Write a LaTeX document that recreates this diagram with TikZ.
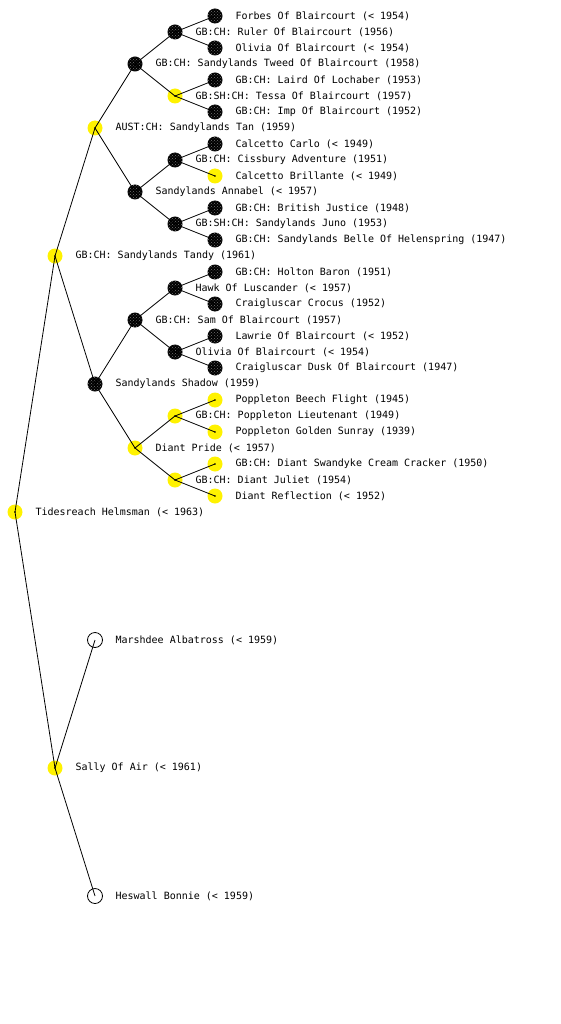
\documentclass[tikz,border=0pt]{standalone}
\usepackage{fontspec}
\newfontfamily\pedfont{DejaVu Sans Mono}
\usetikzlibrary{patterns}
\tikzset{
  dog/.style={circle,minimum size=15pt,inner sep=0pt,line width=0.8pt},
  blk/.style={dog,fill=black,postaction={pattern=crosshatch dots,pattern color=black!55}},
  ylw/.style={dog,fill=yellow,path picture={\fill[black] (path picture bounding box.center) circle (0.9pt);}},
  unk/.style={dog,draw=black,fill=white},
  every label/.style={font=\pedfont\fontsize{10}{12}\selectfont,inner sep=0pt},
  label distance=12.5pt
}
\begin{document}
\begin{tikzpicture}[x=1pt,y=-1pt]
\useasboundingbox (0,0) rectangle (560,1024);
% generation 0 and 1
\node[ylw,label=right:{Tidesreach Helmsman (< 1963)}] (t) at (15,512) {};
\node[ylw,label=right:{GB:CH: Sandylands Tandy (1961)}] (tandy) at (55,256) {};
\node[ylw,label=right:{Sally Of Air (< 1961)}] (sally) at (55,768) {};
% generation 2
\node[ylw,label=right:{AUST:CH: Sandylands Tan (1959)}] (tan) at (95,128) {};
\node[blk,label=right:{Sandylands Shadow (1959)}] (shadow) at (95,384) {};
\node[unk,label=right:{Marshdee Albatross (< 1959)}] (marsh) at (95,640) {};
\node[unk,label=right:{Heswall Bonnie (< 1959)}] (heswall) at (95,896) {};
% generation 3
\node[blk,label=right:{GB:CH: Sandylands Tweed Of Blaircourt (1958)}] (tweed) at (135,64) {};
\node[blk,label=right:{Sandylands Annabel (< 1957)}] (annabel) at (135,192) {};
\node[blk,label=right:{GB:CH: Sam Of Blaircourt (1957)}] (sam) at (135,320) {};
\node[ylw,label=right:{Diant Pride (< 1957)}] (pride) at (135,448) {};
% generation 4
\node[blk,label=right:{GB:CH: Ruler Of Blaircourt (1956)}] (ruler) at (175,32) {};
\node[ylw,label=right:{GB:SH:CH: Tessa Of Blaircourt (1957)}] (tessa) at (175,96) {};
\node[blk,label=right:{GB:CH: Cissbury Adventure (1951)}] (cissbury) at (175,160) {};
\node[blk,label=right:{GB:SH:CH: Sandylands Juno (1953)}] (juno) at (175,224) {};
\node[blk,label=right:{Hawk Of Luscander (< 1957)}] (hawk) at (175,288) {};
\node[blk,label=right:{Olivia Of Blaircourt (< 1954)}] (oliviab) at (175,352) {};
\node[ylw,label=right:{GB:CH: Poppleton Lieutenant (1949)}] (lieut) at (175,416) {};
\node[ylw,label=right:{GB:CH: Diant Juliet (1954)}] (juliet) at (175,480) {};
% generation 5
\node[blk,label=right:{Forbes Of Blaircourt (< 1954)}] (forbes) at (215,16) {};
\node[blk,label=right:{Olivia Of Blaircourt (< 1954)}] (oliviaa) at (215,48) {};
\node[blk,label=right:{GB:CH: Laird Of Lochaber (1953)}] (laird) at (215,80) {};
\node[blk,label=right:{GB:CH: Imp Of Blaircourt (1952)}] (imp) at (215,112) {};
\node[blk,label=right:{Calcetto Carlo (< 1949)}] (carlo) at (215,144) {};
\node[ylw,label=right:{Calcetto Brillante (< 1949)}] (brillante) at (215,176) {};
\node[blk,label=right:{GB:CH: British Justice (1948)}] (justice) at (215,208) {};
\node[blk,label=right:{GB:CH: Sandylands Belle Of Helenspring (1947)}] (belle) at (215,240) {};
\node[blk,label=right:{GB:CH: Holton Baron (1951)}] (baron) at (215,272) {};
\node[blk,label=right:{Craigluscar Crocus (1952)}] (crocus) at (215,304) {};
\node[blk,label=right:{Lawrie Of Blaircourt (< 1952)}] (lawrie) at (215,336) {};
\node[blk,label=right:{Craigluscar Dusk Of Blaircourt (1947)}] (dusk) at (215,368) {};
\node[ylw,label=right:{Poppleton Beech Flight (1945)}] (beech) at (215,400) {};
\node[ylw,label=right:{Poppleton Golden Sunray (1939)}] (sunray) at (215,432) {};
\node[ylw,label=right:{GB:CH: Diant Swandyke Cream Cracker (1950)}] (cracker) at (215,464) {};
\node[ylw,label=right:{Diant Reflection (< 1952)}] (reflection) at (215,496) {};
% parent links
\foreach \a/\b in {t/tandy,t/sally,tandy/tan,tandy/shadow,sally/marsh,sally/heswall,
  tan/tweed,tan/annabel,shadow/sam,shadow/pride,
  tweed/ruler,tweed/tessa,annabel/cissbury,annabel/juno,sam/hawk,sam/oliviab,pride/lieut,pride/juliet,
  ruler/forbes,ruler/oliviaa,tessa/laird,tessa/imp,cissbury/carlo,cissbury/brillante,juno/justice,juno/belle,
  hawk/baron,hawk/crocus,oliviab/lawrie,oliviab/dusk,lieut/beech,lieut/sunray,juliet/cracker,juliet/reflection}
  \draw[line width=0.8pt] (\a.center) -- (\b.center);
\end{tikzpicture}
\end{document}
